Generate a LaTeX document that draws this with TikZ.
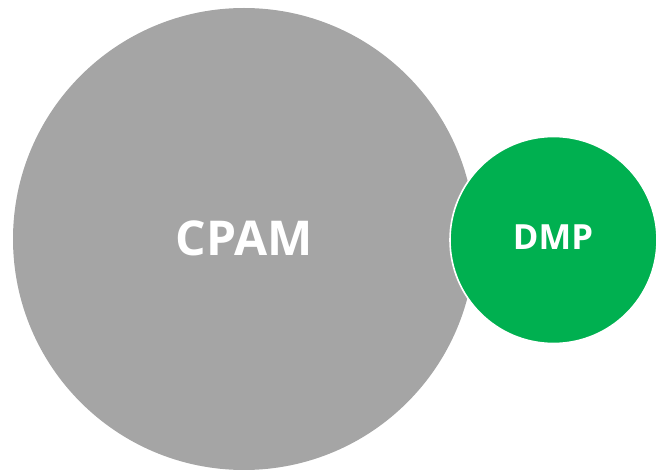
\documentclass[tikz,border=0pt]{standalone}
\usepackage{fontspec}
\setmainfont{Open Sans}
\usepackage{xcolor}
\usepackage{tikz}

\definecolor{cpamgray}{HTML}{A5A5A5}
\definecolor{dmpgreen}{HTML}{00B050}

\tikzset{
  bubble/.style={circle, inner sep=0pt},
  bubblelabel/.style={text=white, inner sep=0.75pt},
}

\begin{document}
\begin{tikzpicture}[x=0.75pt,y=0.75pt,yscale=-1,xscale=1]

\useasboundingbox (0,0) rectangle (665,470);

\node [bubble, fill=cpamgray, minimum size=462*0.75pt] (cpam) at (244,239) {};
\node [bubblelabel, font=\fontsize{36}{40}\selectfont\bfseries] (cpamlabel) at (244,238.5) {CPAM};

\node [bubble, fill=dmpgreen, draw=white, line width=1.2pt, minimum size=207*0.75pt] (dmp) at (553.5,240) {};
\node [bubblelabel, font=\fontsize{26}{30}\selectfont\bfseries] (dmplabel) at (553,237) {DMP};

\end{tikzpicture}
\end{document}
